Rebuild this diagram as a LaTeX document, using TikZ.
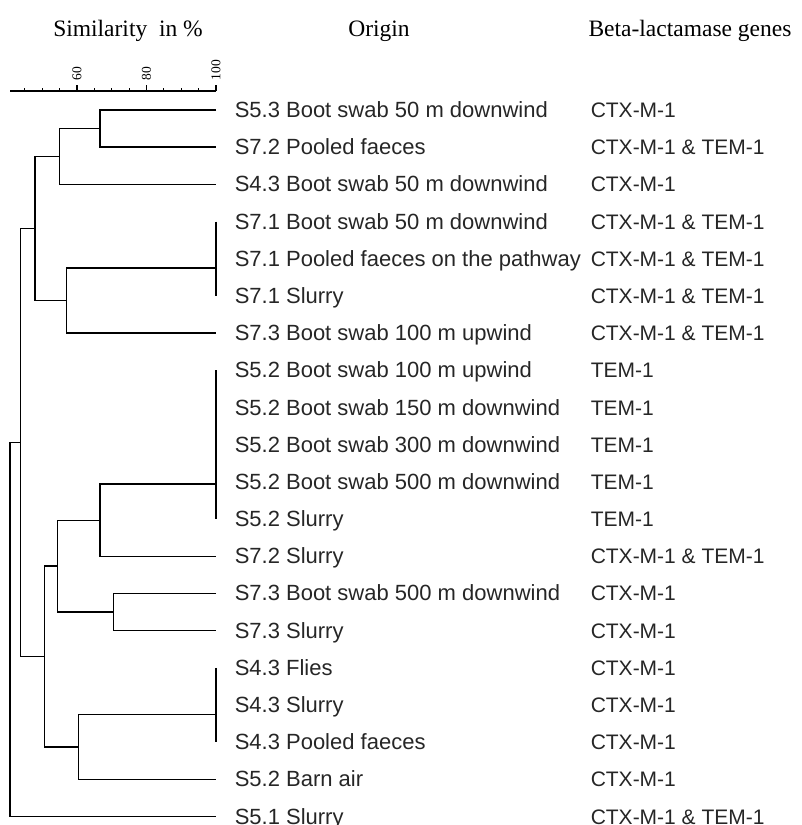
\documentclass[tikz,border=0pt]{standalone}
\usepackage{fontspec}
\setmainfont{Liberation Serif}
\newfontfamily\labelfont{Liberation Sans}
\usetikzlibrary{positioning}

\begin{document}
\begin{tikzpicture}[x=1pt, y=-1pt, line width=1.5pt,
  every node/.style={inner sep=0pt},
  head/.style={font=\fontsize{23.5}{28}\selectfont, anchor=base},
  leaf/.style={font=\labelfont\fontsize{22}{26}\selectfont, anchor=base west, text=black!85},
  gene/.style={leaf, font=\labelfont\fontsize{21}{25}\selectfont},
  ticklabel/.style={font=\fontsize{13.5}{15}\selectfont, rotate=90, anchor=west}]
\useasboundingbox (0,0) rectangle (802,825);

% column heads
\node[head] (hsim) at (128,36) {Similarity\ \ in \%};
\node[head] (horig) at (379,36) {Origin};
\node[head] (hgene) at (690,36) {Beta-lactamase\ genes};

% similarity scale
\draw[line width=1.2pt] (10,91) -- (216,91);
\foreach \s in {45,50,...,95} \draw[line width=1.2pt] ({216-(100-\s)*3.475},91) -- ++(0,-3);
\foreach \s in {60,80,100} {
  \draw[line width=1.2pt] ({216-(100-\s)*3.475},91) -- ++(0,-6);
  \node[ticklabel] (t\s) at ({216-(100-\s)*3.475},81) {\s};
}

% isolates
\foreach \o/\g [count=\i] in {
  S5.3 Boot swab 50 m downwind/CTX-M-1,
  S7.2 Pooled faeces/CTX-M-1 \& TEM-1,
  S4.3 Boot swab 50 m downwind/CTX-M-1,
  S7.1 Boot swab 50 m downwind/CTX-M-1 \& TEM-1,
  S7.1 Pooled faeces on the pathway/CTX-M-1 \& TEM-1,
  S7.1 Slurry/CTX-M-1 \& TEM-1,
  S7.3 Boot swab 100 m upwind/CTX-M-1 \& TEM-1,
  S5.2 Boot swab 100 m upwind/TEM-1,
  S5.2 Boot swab 150 m downwind/TEM-1,
  S5.2 Boot swab 300 m downwind/TEM-1,
  S5.2 Boot swab 500 m downwind/TEM-1,
  S5.2 Slurry/TEM-1,
  S7.2 Slurry/CTX-M-1 \& TEM-1,
  S7.3 Boot swab 500 m downwind/CTX-M-1,
  S7.3 Slurry/CTX-M-1,
  S4.3 Flies/CTX-M-1,
  S4.3 Slurry/CTX-M-1,
  S4.3 Pooled faeces/CTX-M-1,
  S5.2 Barn air/CTX-M-1,
  S5.1 Slurry/CTX-M-1 \& TEM-1} {
  \coordinate (l\i) at (216,{110+(\i-1)*37.19});
  \node[leaf] (o\i) at (234,{117.5+(\i-1)*37.19}) {\o};
  \node[gene] (g\i) at (590,{117.5+(\i-1)*37.19}) {\g};
}

% cluster nodes
\coordinate (A) at (100,128.6);
\coordinate (B) at (59.3,156.5);
\coordinate (C) at (216,268.06);
\coordinate (D) at (66.7,300.6);
\coordinate (E) at (35,228.55);
\coordinate (G) at (216,484.22);
\coordinate (H) at (100,520.25);
\coordinate (I) at (113.3,612.07);
\coordinate (J) at (57.3,566.16);
\coordinate (K) at (216,714.34);
\coordinate (L) at (78.3,746.88);
\coordinate (M) at (44.3,656.52);
\coordinate (F) at (20.7,442.5);
\coordinate (R) at (10,629.6);

% dendrogram
\draw (l1) -| (A) |- (l2);
\draw (A) -| (B) |- (l3);
\draw (l4) -- (l6);
\draw (C) -| (D) |- (l7);
\draw (B) -| (E) |- (D);
\draw (l8) -- (l12);
\draw (G) -| (H) |- (l13);
\draw (l14) -| (I) |- (l15);
\draw (H) -| (J) |- (I);
\draw (l16) -- (l18);
\draw (K) -| (L) |- (l19);
\draw (J) -| (M) |- (L);
\draw (E) -| (F) |- (M);
\draw (F) -| (R) |- (l20);
\end{tikzpicture}
\end{document}
